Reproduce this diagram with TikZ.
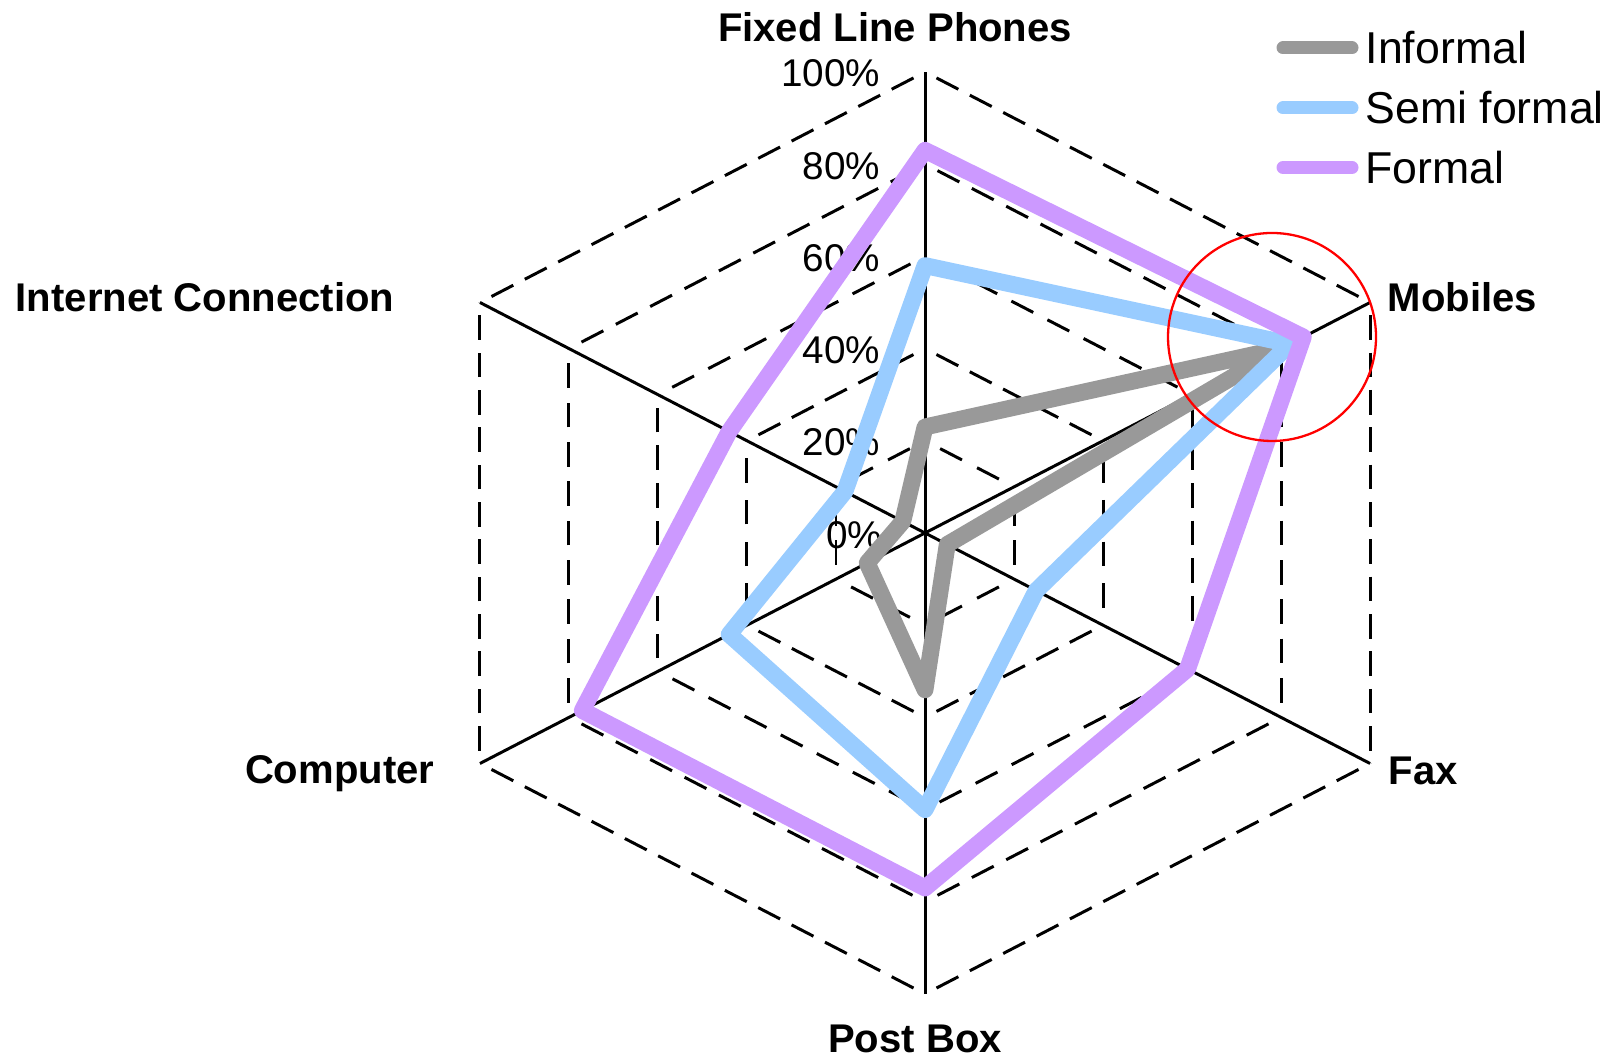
\documentclass[tikz,border=0pt]{standalone}
\usepackage{fontspec}
\setmainfont{Liberation Sans}
\usetikzlibrary{decorations}
\definecolor{informal}{RGB}{153,153,153}
\definecolor{semiformal}{RGB}{153,204,255}
\definecolor{formal}{RGB}{204,153,255}

\begin{document}
\begin{tikzpicture}[
    grid/.style={line width=0.85pt, dash pattern=on 7pt off 3.5pt, dash expand off},
    spoke/.style={line width=0.85pt},
    series/.style={line width=4.8pt, line join=round, line cap=round},
    keyline/.style={line width=3.7pt, line cap=round},
    ticklbl/.style={font=\fontsize{11}{13}\selectfont, inner sep=0pt, anchor=base east},
    axislbl/.style={font=\fontsize{11.4}{13}\selectfont\bfseries, inner sep=0pt},
    keylbl/.style={font=\fontsize{12.7}{15}\selectfont, inner sep=0pt, anchor=west}]

\useasboundingbox (0,0) rectangle (16.11,10.57);

\begin{scope}[shift={(9.25,5.24)}, x=5.139cm, y=4.61cm]

\coordinate (ctr) at (0,0);
\coordinate (fixed) at (90:1);
\coordinate (mobiles) at (30:1);
\coordinate (fax) at (-30:1);
\coordinate (postbox) at (-90:1);
\coordinate (computer) at (-150:1);
\coordinate (internet) at (150:1);

% rings, one dashed edge at a time
\foreach \r in {0.2,0.4,0.6,0.8,1}
  \foreach \a in {90,30,-30,-90,-150,-210}
    \draw[grid] (\a:\r) -- (\a-60:\r);

\draw[spoke] (ctr) -- (fixed);
\draw[spoke] (ctr) -- (mobiles);
\draw[spoke] (ctr) -- (fax);
\draw[spoke] (ctr) -- (postbox);
\draw[spoke] (ctr) -- (computer);
\draw[spoke] (ctr) -- (internet);

\node[ticklbl] (t100) at ([shift={(-0.44cm,-0.15cm)}]90:1) {100\%};
\node[ticklbl] (t80) at ([shift={(-0.44cm,-0.15cm)}]90:0.8) {80\%};
\node[ticklbl] (t60) at ([shift={(-0.44cm,-0.15cm)}]90:0.6) {60\%};
\node[ticklbl] (t40) at ([shift={(-0.44cm,-0.15cm)}]90:0.4) {40\%};
\node[ticklbl] (t20) at ([shift={(-0.44cm,-0.15cm)}]90:0.2) {20\%};
\node[ticklbl] (t0) at ([shift={(-0.42cm,-0.16cm)}]ctr) {0\%};

\node[axislbl, anchor=base] (lfixed) at ([shift={(-0.30cm,0.30cm)}]fixed) {Fixed Line Phones};
\node[axislbl, anchor=base west] (lmobiles) at ([shift={(0.17cm,-0.09cm)}]mobiles) {Mobiles};
\node[axislbl, anchor=base west] (lfax) at ([shift={(0.18cm,-0.215cm)}]fax) {Fax};
\node[axislbl, anchor=base] (lpostbox) at ([shift={(-0.10cm,-0.59cm)}]postbox) {Post Box};
\node[axislbl, anchor=base east] (lcomputer) at ([shift={(-0.45cm,-0.20cm)}]computer) {Computer};
\node[axislbl, anchor=base east] (linternet) at ([shift={(-0.85cm,-0.09cm)}]internet) {Internet Connection};

% the three series
\draw[series, informal] (90:0.23) -- (30:0.80) -- (-30:0.05) -- (-90:0.34) -- (-150:0.13) -- (150:0.05) -- cycle;
\draw[series, semiformal] (90:0.58) -- (30:0.82) -- (-30:0.25) -- (-90:0.60) -- (-150:0.44) -- (150:0.18) -- cycle;
\draw[series, formal] (90:0.83) -- (30:0.85) -- (-30:0.59) -- (-90:0.77) -- (-150:0.77) -- (150:0.44) -- cycle;
\end{scope}

% legend
\node[keylbl] (kinformal) at (13.65,10.09) {Informal};
\node[keylbl] (ksemi) at (13.65,9.49) {Semi formal};
\node[keylbl] (kformal) at (13.65,8.895) {Formal};
\draw[keyline, informal] ([xshift=-0.82cm]kinformal.west) -- ([xshift=-0.13cm]kinformal.west);
\draw[keyline, semiformal] ([xshift=-0.82cm]ksemi.west) -- ([xshift=-0.13cm]ksemi.west);
\draw[keyline, formal] ([xshift=-0.82cm]kformal.west) -- ([xshift=-0.13cm]kformal.west);

\coordinate (ring) at (12.72,7.20);
\draw[red, line width=0.65pt] (ring) circle (1.04);

\end{tikzpicture}
\end{document}
